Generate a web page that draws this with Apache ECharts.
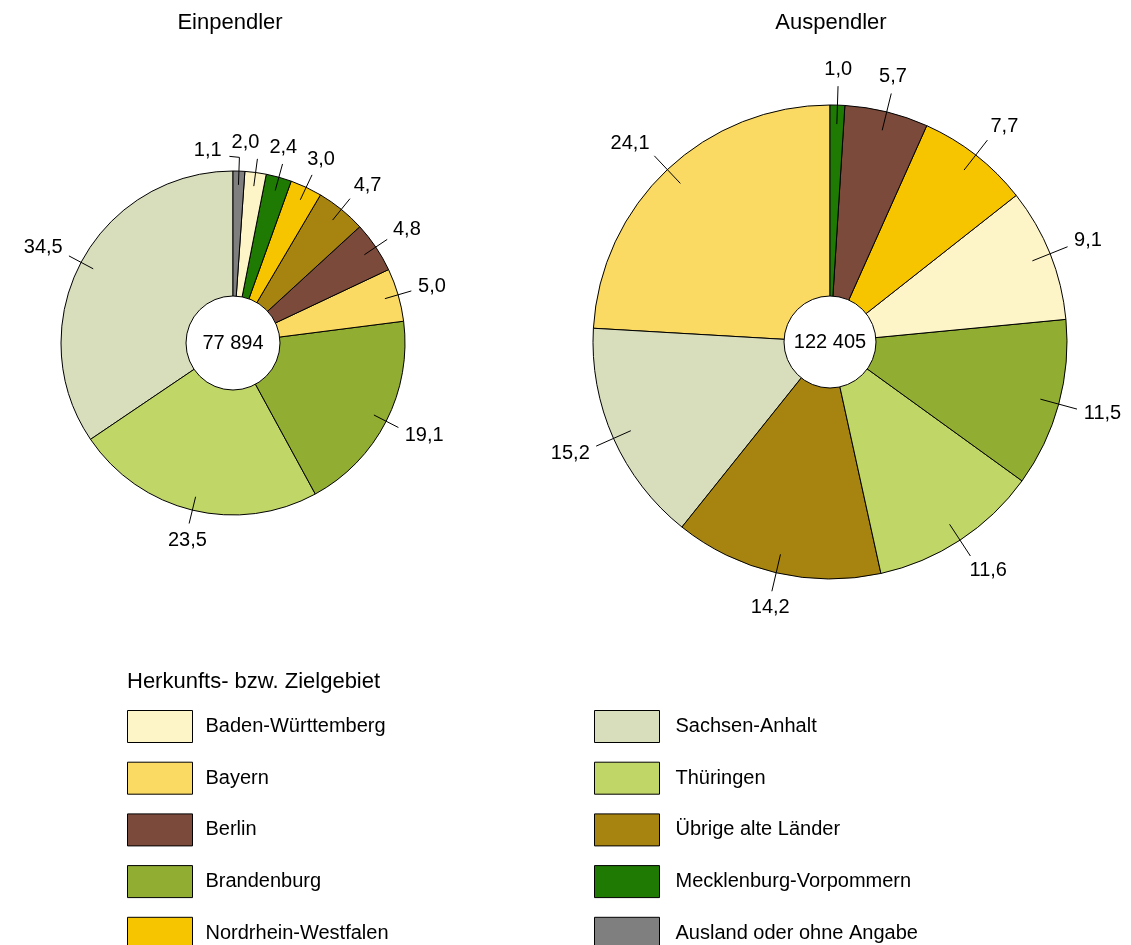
<!DOCTYPE html>
<html><head><meta charset="utf-8">
<script src="https://cdn.jsdelivr.net/npm/echarts@6/dist/echarts.min.js"></script>
<style>html,body{margin:0;padding:0;background:#fff}#c{width:1131px;height:945px}</style>
</head><body><div id="c"></div>
<script>
// ---- data ----
const regions = ['Baden-Württemberg','Bayern','Berlin','Brandenburg','Nordrhein-Westfalen',
                 'Sachsen-Anhalt','Thüringen','Übrige alte Länder','Mecklenburg-Vorpommern','Ausland oder ohne Angabe'];
const regionColors = ['#FDF5C8','#FADA63','#7B4A3A','#91AD32','#F7C400',
                      '#D8DDBC','#C0D666','#A7830F','#1F7A04','#7F7F7F'];
// slices listed clockwise from 12 o'clock
const einCategories = ['Ausland oder ohne Angabe','Baden-Württemberg','Mecklenburg-Vorpommern','Nordrhein-Westfalen',
                       'Übrige alte Länder','Berlin','Bayern','Brandenburg','Thüringen','Sachsen-Anhalt'];
const einValues = [1.1, 2.0, 2.4, 3.0, 4.7, 4.8, 5.0, 19.1, 23.5, 34.5];
const einTotal = 77894;
const ausCategories = ['Mecklenburg-Vorpommern','Berlin','Nordrhein-Westfalen','Baden-Württemberg',
                       'Brandenburg','Thüringen','Übrige alte Länder','Sachsen-Anhalt','Bayern'];
const ausValues = [1.0, 5.7, 7.7, 9.1, 11.5, 11.6, 14.2, 15.2, 24.1];
const ausTotal = 122405;
const chartTitles = ['Einpendler', 'Auspendler'];
const legendTitle = 'Herkunfts- bzw. Zielgebiet';
const legendLeftItems = regions.slice(0, 5);
const legendRightItems = regions.slice(5);

// ---- chart ----
const FONT = '"Liberation Sans", Arial, Helvetica, sans-serif';
const pies = [
  {cats: einCategories, vals: einValues, total: einTotal, center: [233, 343], r: 172, hole: 47},
  {cats: ausCategories, vals: ausValues, total: ausTotal, center: [830, 342], r: 237, hole: 46}
];
function fmt(v) { return v.toFixed(1).replace('.', ','); }
function fmtTotal(v) { return String(v).replace(/\B(?=(\d{3})+(?!\d))/g, ' '); }
const PAD = 10;
function overlap(a, b) {
  return a.x < b.x + b.w + PAD && b.x < a.x + a.w + PAD && a.y < b.y + b.h && b.y < a.y + a.h;
}
const prevRects = {};
function layoutLabel(p) {
  const pts = p.labelLinePoints;
  if (!pts) return {};
  if (p.dataIndex === 0) prevRects[p.seriesIndex] = null;
  const p0 = pts[0], p1 = pts[1];
  let dx = p1[0] - p0[0], dy = p1[1] - p0[1];
  const len = Math.hypot(dx, dy) || 1; dx /= len; dy /= len;
  const w = p.labelRect.width, h = p.labelRect.height;
  const g = 7;
  const ax = p1[0] + dx * g, ay = p1[1] + dy * g;
  const f = Math.max(0, Math.min(1, (Math.abs(dx) - 0.25) / 0.4));
  let cx = ax + Math.sign(dx) * f * w / 2, cy = ay + dy * h / 2;
  let line = [p0.slice(), p1.slice()];
  const rect = {x: cx - w / 2, y: cy - h / 2, w: w, h: h};
  const prev = prevRects[p.seriesIndex];
  if (prev && overlap(rect, prev)) {
    // labels are processed counter-clockwise: move the newcomer further that way
    const dir = dy < 0 ? -1 : 1;
    const target = dir < 0 ? prev.x - PAD - w / 2 : prev.x + prev.w + PAD + w / 2;
    if (Math.abs(target - cx) <= 16) {
      cx = target;
    } else {
      const p2 = [p1[0] + dir * 10, p1[1] - 1];
      const edge = p2[0] + dir * 5;
      cx = dir < 0 ? Math.min(target, edge - w / 2) : Math.max(target, edge + w / 2);
      cy = p1[1] - 7;
      line = [p0.slice(), p1.slice(), p2];
    }
  }
  prevRects[p.seriesIndex] = {x: cx - w / 2, y: cy - h / 2, w: w, h: h};
  return {x: cx, y: cy, align: 'center', verticalAlign: 'middle', labelLinePoints: line};
}

const series = [];
const colorOf = c => regionColors[regions.indexOf(c)];
// visible slices (first so the legend takes colours from them)
pies.forEach(pc => {
  series.push({
    type: 'pie', z: 2, center: pc.center, radius: [0, pc.r], startAngle: 90, clockwise: false,
    silent: true, emphasis: {disabled: true}, label: {show: false}, labelLine: {show: false},
    itemStyle: {borderColor: '#000', borderWidth: 1},
    data: pc.cats.map((c, k) => ({name: c, value: pc.vals[k], itemStyle: {color: colorOf(c)}})).reverse()
  });
});
// label carriers (transparent, slightly smaller radius so leader lines start inside slices)
pies.forEach(pc => {
  series.push({
    type: 'pie', z: 3, center: pc.center, radius: [0, pc.r * 0.92], startAngle: 90, clockwise: false,
    silent: true, emphasis: {disabled: true}, avoidLabelOverlap: false, minShowLabelAngle: 0,
    itemStyle: {color: 'rgba(0,0,0,0)', borderWidth: 0},
    label: {show: true, position: 'outside', formatter: q => fmt(q.value), color: '#000',
            fontSize: 20, fontFamily: FONT},
    labelLine: {show: true, length: pc.r * 0.16, length2: 0, lineStyle: {color: '#000', width: 1}},
    labelLayout: layoutLabel,
    data: pc.cats.map((c, k) => ({name: c, value: pc.vals[k]})).reverse()
  });
});
// centre holes with totals
pies.forEach(pc => {
  series.push({
    type: 'pie', z: 4, center: pc.center, radius: [0, pc.hole], silent: true, emphasis: {disabled: true},
    itemStyle: {color: '#fff', borderColor: '#000', borderWidth: 1},
    label: {show: true, position: 'center', formatter: q => fmtTotal(q.value), color: '#000',
            fontSize: 20, fontFamily: FONT},
    labelLine: {show: false},
    data: [{name: 'total', value: pc.total}]
  });
});

const titleStyle = {fontSize: 22, fontWeight: 'normal', fontFamily: FONT, color: '#000'};
const legendCommon = {
  orient: 'vertical', top: 710, height: 240, itemWidth: 65, itemHeight: 32, itemGap: 18.7, icon: 'rect',
  selectedMode: false, padding: 0,
  itemStyle: {borderColor: '#000', borderWidth: 1}
};
const option = {
  animation: false,
  backgroundColor: '#fff',
  title: [
    {text: chartTitles[0], left: 230, top: 12, textAlign: 'center', padding: 0, textStyle: titleStyle},
    {text: chartTitles[1], left: 831, top: 12, textAlign: 'center', padding: 0, textStyle: titleStyle},
    {text: legendTitle, left: 127, top: 671, padding: 0,
     textStyle: {fontSize: 22, fontWeight: 'normal', fontFamily: FONT, color: '#000'}}
  ],
  legend: [
    Object.assign({}, legendCommon, {data: legendLeftItems, left: 127,
      textStyle: {fontSize: 20, fontFamily: FONT, color: '#000', padding: [0, 0, 0, 8]}}),
    Object.assign({}, legendCommon, {data: legendRightItems, left: 594,
      textStyle: {fontSize: 20, fontFamily: FONT, color: '#000', padding: [0, 0, 0, 11]}})
  ],
  series: series
};
const chart = echarts.init(document.getElementById('c'), null, {renderer: 'canvas'});
chart.setOption(option);
</script>
</body></html>
